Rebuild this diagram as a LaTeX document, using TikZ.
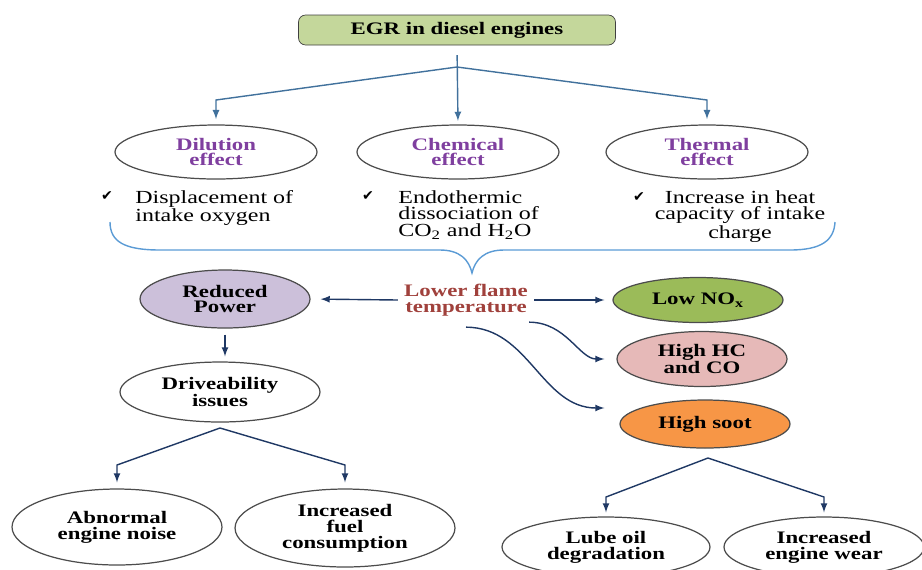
\documentclass[tikz,border=0pt]{standalone}
\usepackage{fontspec}
\setmainfont{Liberation Serif}[FakeStretch=1.3]
\newfontfamily\symfont{DejaVu Sans}
\usetikzlibrary{arrows,shapes.geometric}
\definecolor{egrgreen}{HTML}{C4D79B}
\definecolor{effpurple}{HTML}{7F3F9F}
\definecolor{flamered}{HTML}{A0413C}
\definecolor{rpfill}{HTML}{CCC0DA}
\definecolor{noxfill}{HTML}{9BBB59}
\definecolor{hcfill}{HTML}{E6B9B8}
\definecolor{sootfill}{HTML}{F79646}
\definecolor{navy}{HTML}{1F3864}
\definecolor{steel}{HTML}{41719C}
\definecolor{bracecol}{HTML}{5B9BD5}
\tikzset{ov/.style={ellipse, draw=black!70, line width=0.7pt, inner sep=0, align=center, font=\bfseries\fontsize{10}{9}\selectfont},
  ar/.style={-latex, draw=navy, line width=0.8pt},
  tx/.style={inner sep=0, font=\fontsize{10.5}{9.5}\selectfont},
  ck/.style={font=\symfont\fontsize{8}{8}\selectfont}}

\begin{document}
\begin{tikzpicture}[x=0.02cm,y=-0.02cm]
    \useasboundingbox (0,0) rectangle (922,569);
    \clip (0,0) rectangle (922,569);

    \node[draw=black!75, fill=egrgreen, rounded corners=4pt, minimum width=6.34cm, minimum height=0.6cm, font=\bfseries\fontsize{10}{10}\selectfont] (egr) at (457,30) {EGR in diesel engines};

    \foreach \nm/\x/\txt in {dil/216/Dilution, chem/458/Chemical, therm/707/Thermal}
    {
      \node[ov, text=effpurple, minimum width=4.04cm, minimum height=1.08cm] (\nm) at (\x,152) {\txt\\effect};
    }

    \coordinate (fork) at (457,67);
    \draw[-latex, steel, line width=0.8pt, shorten <=5.5pt, shorten >=2pt] (egr.south) -- (chem.north);
    \draw[-latex, steel, line width=0.8pt, shorten >=3pt] (fork) -- (dil.north |- 0,100) -- (dil.north);
    \draw[-latex, steel, line width=0.8pt, shorten >=3pt] (fork) -- (therm.north |- 0,100) -- (therm.north);

    \node[ck] (c1) at (107,196) {✔};
    \node[tx, anchor=north west, align=left] (t1) at (135,190) {Displacement of\\intake oxygen};
    \node[ck] (c2) at (368,196) {✔};
    \node[tx, anchor=north west, align=left] (t2) at (398,190) {Endothermic\\dissociation of\\CO\textsubscript{2} and H\textsubscript{2}O};
    \node[ck] (c3) at (639,197) {✔};
    \node[tx, anchor=north, align=center] (t3) at (740,190) {Increase in heat\\capacity of intake\\charge};

    \draw[bracecol, line width=0.8pt] (110,222) .. controls (110,242) and (125,250) .. (160,250) -- (440,250) .. controls (460,250) and (469,260) .. (472,273) .. controls (475,260) and (484,250) .. (504,250) -- (790,250) .. controls (822,250) and (834,240) .. (835,222);

    \node[align=center, text=flamered, font=\bfseries\fontsize{10}{9}\selectfont] (lft) at (466,300) {Lower flame\\temperature};

    \node[ov, fill=rpfill, minimum width=3.4cm, minimum height=1.16cm] (rp) at (225,299) {Reduced\\Power};
    \node[ov, minimum width=4cm, minimum height=1.2cm] (drv) at (220,392) {Driveability\\issues};
    \node[ov, minimum width=4.2cm, minimum height=1.52cm] (noise) at (117,527) {Abnormal\\engine noise};
    \node[ov, minimum width=4.4cm, minimum height=1.56cm] (fuel) at (345,528) {Increased\\fuel\\consumption};

    \node[ov, fill=noxfill, minimum width=3.4cm, minimum height=0.9cm] (nox) at (698,300) {Low NO\textsubscript{x}};
    \node[ov, fill=hcfill, minimum width=3.4cm, minimum height=1.1cm] (hc) at (702,359) {High HC\\and CO};
    \node[ov, fill=sootfill, minimum width=3.4cm, minimum height=0.96cm] (soot) at (705,424) {High soot};
    \node[ov, minimum width=4.16cm, minimum height=1.2cm] (lube) at (606,547) {Lube oil\\degradation};
    \node[ov, minimum width=4cm, minimum height=1.2cm] (wear) at (824,547) {Increased\\engine wear};

    \coordinate (dfork) at (220,428);
    \coordinate (sfork) at (708,458);

    \draw[ar, shorten >=0.2cm] (lft.west) -- (rp.east);
    \draw[ar, shorten <=0.12cm, shorten >=0.1cm] (rp.south) -- (rp.south |- drv.north);
    \draw[ar, shorten >=0.12cm] (dfork) -- (noise.north |- 0,465) -- (noise.north);
    \draw[ar, shorten >=0.12cm] (dfork) -- (fuel.north |- 0,465) -- (fuel.north);

    \draw[ar, shorten >=0.16cm] (lft.east) -- (nox.west);
    \draw[ar, shorten >=0.24cm] ([xshift=-0.1cm]lft.south east) to[out=0, in=180] (hc.west);
    \draw[ar] ([yshift=-0.1cm]lft.south) to[out=0, in=180] ([xshift=-0.3cm, yshift=0.32cm]soot.west);
    \draw[ar, shorten >=0.08cm] (sfork) -- (lube.north |- 0,497) -- (lube.north);
    \draw[ar, shorten >=0.08cm] (sfork) -- (wear.north |- 0,497) -- (wear.north);
\end{tikzpicture}
\end{document}
